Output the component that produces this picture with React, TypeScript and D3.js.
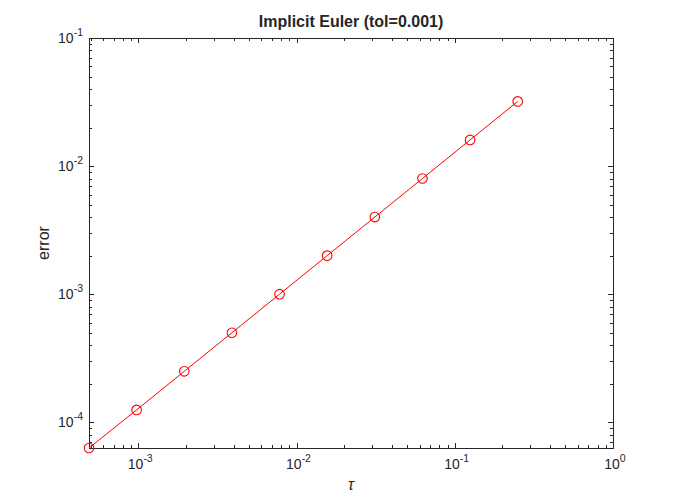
import React from "react";
import * as d3 from "d3";

const taus = [2 ** -11, 2 ** -10, 2 ** -9, 2 ** -8, 2 ** -7, 2 ** -6, 2 ** -5, 2 ** -4, 2 ** -3, 2 ** -2];
const errors = [6.3e-5, 1.25e-4, 2.5e-4, 5.0e-4, 1.0e-3, 2.0e-3, 4.0e-3, 8.0e-3, 1.6e-2, 3.2e-2];
const xTickExps = [-3, -2, -1, 0];
const yTickExps = [-4, -3, -2, -1];
const titleText = "Implicit Euler (tol=0.001)";

const W = 679, H = 504;
const L = 89, R = 613, T = 38, B = 448;

export default function App() {
  if (typeof document !== "undefined") document.body.style.margin = "0";
  const x = d3.scaleLog().domain([taus[0], 1]).range([L, R]);
  const y = d3.scaleLog().domain([d3.min(errors)!, 0.1]).range([B, T]);
  const line = d3.line<number>().x((_, i) => x(taus[i])).y((d) => y(d));

  const minorX: number[] = [];
  for (let e = -4; e < 0; e++) for (let k = 2; k <= 9; k++) {
    const v = k * 10 ** e;
    if (v >= taus[0] && v <= 1) minorX.push(v);
  }
  const minorY: number[] = [];
  for (let e = -5; e < -1; e++) for (let k = 2; k <= 9; k++) {
    const v = k * 10 ** e;
    if (v >= d3.min(errors)! && v <= 0.1) minorY.push(v);
  }
  const tc = "#262626";
  const font = "'Liberation Sans', Arial, Helvetica, sans-serif";
  return (
    <svg width={W} height={H} style={{ display: "block", background: "#fff" }} fontFamily={font}>
      <rect x={L} y={T} width={R - L} height={B - T} fill="#fff" />
      {/* ticks */}
      <g stroke={tc} strokeWidth={1}>
        {xTickExps.map((e) => {
          const px = Math.round(x(10 ** e)) + 0.5;
          return (
            <g key={"xt" + e}>
              <line x1={px} x2={px} y1={B} y2={B - 5} />
              <line x1={px} x2={px} y1={T} y2={T + 5} />
            </g>
          );
        })}
        {minorX.map((v, i) => {
          const px = Math.round(x(v)) + 0.5;
          return (
            <g key={"xm" + i}>
              <line x1={px} x2={px} y1={B} y2={B - 3} />
              <line x1={px} x2={px} y1={T} y2={T + 3} />
            </g>
          );
        })}
        {yTickExps.map((e) => {
          const py = Math.round(y(10 ** e)) + 0.5;
          return (
            <g key={"yt" + e}>
              <line x1={L} x2={L + 5} y1={py} y2={py} />
              <line x1={R} x2={R - 5} y1={py} y2={py} />
            </g>
          );
        })}
        {minorY.map((v, i) => {
          const py = Math.round(y(v)) + 0.5;
          return (
            <g key={"ym" + i}>
              <line x1={L} x2={L + 3} y1={py} y2={py} />
              <line x1={R} x2={R - 3} y1={py} y2={py} />
            </g>
          );
        })}
      </g>
      <rect x={L + 0.5} y={T + 0.5} width={R - L} height={B - T} fill="none" stroke={tc} strokeWidth={1} />
      {/* data */}
      <path d={line(errors) || ""} fill="none" stroke="#ff0000" strokeWidth={1} />
      {errors.map((d, i) => (
        <circle key={i} cx={x(taus[i])} cy={y(d)} r={4.8} fill="none" stroke="#ff0000" strokeWidth={1.1} />
      ))}
      {/* tick labels */}
      {xTickExps.map((e) => (
        <text key={"xl" + e} x={x(10 ** e) + 2} y={469} textAnchor="middle" fontSize={14} fill={tc}>
          10<tspan dy={-7} fontSize={10.5}>{e}</tspan>
        </text>
      ))}
      {yTickExps.map((e) => (
        <text key={"yl" + e} x={83} y={y(10 ** e) + 5} textAnchor="end" fontSize={14} fill={tc}>
          10<tspan dy={-7} fontSize={10.5}>{e}</tspan>
        </text>
      ))}
      <text x={(L + R) / 2} y={27} textAnchor="middle" fontSize={16} fontWeight="bold" fill={tc}>{titleText}</text>
      <text x={(L + R) / 2} y={490} textAnchor="middle" fontSize={16} fontStyle="italic" fill={tc}>τ</text>
      <text transform={`translate(49,${(T + B) / 2}) rotate(-90)`} textAnchor="middle" fontSize={16} fill={tc}>error</text>
    </svg>
  );
}
